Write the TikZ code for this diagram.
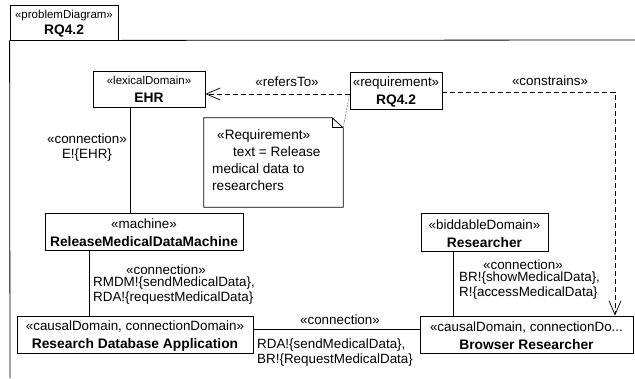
\documentclass[tikz,border=0pt]{standalone}
\usepackage{fontspec}
\setmainfont{Liberation Sans}
\usetikzlibrary{positioning}
\usetikzlibrary{arrows.meta}

\tikzset{
  pdbox/.style={draw, line width=0.8pt, inner sep=0pt, align=center, text height=30.5pt,
    font=\fontsize{13.4}{18}\selectfont},
  lbl/.style={inner sep=0pt, font=\fontsize{13.4}{15}\selectfont},
  dep/.style={dash pattern=on 5pt off 3pt, line width=0.7pt,
    -{Straight Barb[length=14pt,width=12pt]}},
  link/.style={line width=0.8pt},
}
\newcommand{\smallst}[1]{{\fontsize{11.5}{13}\selectfont #1}}
\newcommand{\nm}[1]{{\fontsize{13.8}{18}\selectfont\bfseries #1}}

\begin{document}
\begin{tikzpicture}[x=1pt,y=-1pt]
\useasboundingbox (0,0) rectangle (635,378);

% frame
\node[pdbox, text height=26pt, minimum width=108pt, minimum height=35pt, font=\fontsize{13}{16}\selectfont]
  (title) at (64,22.5) {\smallst{«problemDiagram»}\\\nm{RQ4.2}};
\draw[link] (title.south west) -- (10,378);
\draw[link] (title.south east) -- (635,40);

% domains
\node[pdbox, text height=26pt, minimum width=112pt, minimum height=36pt] (EHR) at (149,89)
  {\smallst{«lexicalDomain»}\\\nm{EHR}};
\node[pdbox, minimum width=92pt, minimum height=37pt] (req) at (396,90.5)
  {«requirement»\\\nm{RQ4.2}};
\node[pdbox, minimum width=198pt, minimum height=37pt] (mach) at (144,231.5)
  {«machine»\\\nm{ReleaseMedicalDataMachine}};
\node[pdbox, minimum width=236pt, minimum height=37pt] (RDA) at (135,334.5)
  {«causalDomain, connectionDomain»\\\nm{Research Database Application}};
\node[pdbox, minimum width=127pt, minimum height=38pt] (res) at (484.5,232)
  {«biddableDomain»\\\nm{Researcher}};
\node[pdbox, minimum width=213pt, minimum height=37pt] (BR) at (526.5,334.5)
  {«causalDomain, connectionDo...\\\nm{Browser Researcher}};

% note
\node[minimum width=139pt, minimum height=89pt, inner sep=0pt] (note) at (273.5,162.5) {};
\draw[link] (note.north west) -- ([xshift=-11pt]note.north east)
  -- ([yshift=-10pt]note.north east) -- (note.south east) -- (note.south west) -- cycle;
\draw[link] ([xshift=-11pt]note.north east) |- ([yshift=-10pt]note.north east);
\node[lbl, font=\fontsize{13.6}{17}\selectfont, align=left, anchor=north west] (notetxt) at (212,129.5)
  {\hspace*{5pt}«Requirement»\\\hspace*{21pt}text = Release\\medical data to\\researchers};
\draw[gray, line width=0.6pt, dash pattern=on 2pt off 1pt] ([yshift=-10pt]note.north east) -- (req.west |- 0,94);

% connections
\draw[link] (EHR.south -| 130,0) -- (mach.north -| 130,0);
\node[lbl, align=center] (c1) at (87,147.5) {«connection»\\E!\{EHR\}};

\draw[link] (mach.south -| 89,0) -- (RDA.north -| 89,0);
\node[lbl] (c2) at (166,270) {«connection»};
\node[lbl, align=left, anchor=north west] (c2t) at (93,277)
  {RMDM!\{sendMedicalData\},\\RDA!\{requestMedicalData\}};

\draw[link] (RDA.east |- 0,329) -- (BR.west |- 0,329);
\node[lbl] (c3) at (340,320) {«connection»};
\node[lbl, align=left, anchor=north west] (c3t) at (257,339)
  {RDA!\{sendMedicalData\},\\BR!\{RequestMedicalData\}};

\draw[link] (res.south -| 453,0) -- (BR.north -| 453,0);
\node[lbl] (c4) at (523,265) {«connection»};
\node[lbl, align=left, anchor=north west] (c4t) at (459,272)
  {BR!\{showMedicalData\},\\R!\{accessMedicalData\}};

% dependencies
\draw[dep] (req.west |- 0,94) -- (EHR.east |- 0,94);
\node[lbl] (refs) at (287,82) {«refersTo»};
\draw[dep] (req.east |- 0,92) -| (BR.north -| 615,0);
\node[lbl] (cons) at (550,81) {«constrains»};
\end{tikzpicture}
\end{document}
